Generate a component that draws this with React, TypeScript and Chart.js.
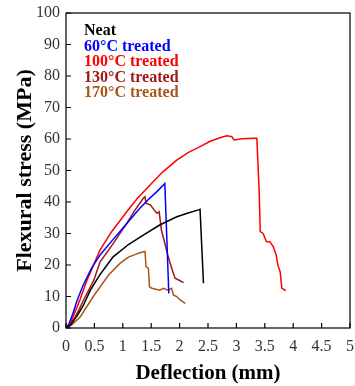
import React, { useEffect, useRef } from "react";
import { Chart, registerables } from "chart.js";

Chart.register(...registerables);

const seriesNames = ["Neat", "60°C treated", "100°C treated", "130°C treated", "170°C treated"];
const seriesColors = ["#000000", "#0000ff", "#ff0000", "#a01818", "#a8561a"];

const neatX = [0, 0.08, 0.2, 0.3, 0.43, 0.6, 0.83, 1.1, 1.36, 1.65, 1.95, 2.15, 2.33, 2.36, 2.42];
const neatY = [0, 1, 4, 7, 12, 17, 22.6, 26.5, 29.5, 32.7, 35.3, 36.5, 37.5, 37.7, 14.2];

const t60X = [0, 0.05, 0.12, 0.2, 0.3, 0.45, 0.6, 0.8, 0.95, 1.1, 1.3, 1.45, 1.6, 1.74, 1.81];
const t60Y = [0, 1.2, 4.5, 9, 13.5, 19, 23.2, 27.5, 30.6, 33.8, 38, 40.8, 43.3, 45.9, 11];

const t100X = [0, 0.05, 0.1, 0.22, 0.37, 0.6, 0.8, 1.07, 1.25, 1.48, 1.7, 1.95, 2.15, 2.36, 2.53, 2.71, 2.83, 2.92, 2.96, 3.1, 3.33, 3.36, 3.4, 3.42, 3.47, 3.53, 3.59, 3.65, 3.7, 3.73, 3.77, 3.8, 3.87];
const t100Y = [0, 1, 2.5, 7.8, 15.2, 24.8, 30.5, 36.9, 41, 45.4, 49.5, 53.3, 55.7, 57.6, 59.2, 60.4, 61, 60.7, 59.7, 60.1, 60.2, 60.2, 43.8, 30.6, 30, 27.4, 27.4, 25.8, 23.2, 20, 17.9, 12.6, 11.9];

const t130X = [0, 0.06, 0.15, 0.3, 0.49, 0.6, 0.8, 1.07, 1.2, 1.36, 1.39, 1.41, 1.49, 1.55, 1.6, 1.64, 1.68, 1.74, 1.8, 1.86, 1.92, 2.01, 2.07];
const t130Y = [0, 0.8, 3, 8.5, 15.2, 21, 26, 33.2, 37, 41.2, 41.7, 39.6, 39, 37.5, 36.4, 36.9, 31.1, 26.9, 22.6, 19, 15.8, 15, 14.4];

const t170X = [0, 0.1, 0.25, 0.48, 0.75, 0.95, 1.1, 1.2, 1.3, 1.39, 1.41, 1.45, 1.47, 1.51, 1.65, 1.71, 1.8, 1.86, 1.89, 1.95, 2.01, 2.1];
const t170Y = [0, 1, 3.5, 10, 16.8, 20.5, 22.5, 23.2, 23.9, 24.3, 19.5, 19, 13.1, 12.6, 12, 12.6, 12, 12.6, 10.5, 10, 8.9, 7.8];

const xTicks = [0, 0.5, 1, 1.5, 2, 2.5, 3, 3.5, 4, 4.5, 5];
const yTicks = [0, 10, 20, 30, 40, 50, 60, 70, 80, 90, 100];

const seriesX = [neatX, t60X, t100X, t130X, t170X];
const seriesY = [neatY, t60Y, t100Y, t130Y, t170Y];

const serif = "'Liberation Serif', 'Times New Roman', serif";

const framePlugin = {
  id: "frame",
  afterDraw(chart: any) {
    const { ctx, chartArea } = chart;
    const xs = chart.scales.x;
    const ys = chart.scales.y;
    ctx.save();
    ctx.strokeStyle = "#000";
    ctx.lineWidth = 1.2;
    ctx.strokeRect(chartArea.left, chartArea.top, chartArea.right - chartArea.left, chartArea.bottom - chartArea.top);
    ctx.beginPath();
    xTicks.forEach((v) => {
      const px = xs.getPixelForValue(v);
      ctx.moveTo(px, chartArea.bottom);
      ctx.lineTo(px, chartArea.bottom - 5);
    });
    yTicks.forEach((v) => {
      const py = ys.getPixelForValue(v);
      ctx.moveTo(chartArea.left, py);
      ctx.lineTo(chartArea.left + 5, py);
    });
    ctx.stroke();
    // legend text
    ctx.font = "bold 16px " + serif;
    ctx.textBaseline = "middle";
    ctx.textAlign = "left";
    seriesNames.forEach((name, i) => {
      ctx.fillStyle = seriesColors[i];
      ctx.fillText(name, 84, 31 + i * 15.5);
    });
    ctx.restore();
  },
};

export default function App() {
  const ref = useRef<HTMLCanvasElement>(null);
  useEffect(() => {
    if (!ref.current) return;
    const datasets = seriesNames.map((name, i) => ({
      label: name,
      data: seriesX[i].map((x, j) => ({ x, y: seriesY[i][j] })),
      borderColor: seriesColors[i],
      backgroundColor: seriesColors[i],
      borderWidth: 1.5,
      pointRadius: 0,
      showLine: true,
      tension: 0,
      fill: false,
    }));
    const chart = new Chart(ref.current, {
      type: "scatter",
      data: { datasets },
      options: {
        animation: false,
        responsive: false,
        maintainAspectRatio: false,
        layout: { padding: { left: 0, top: 13, right: 5, bottom: 0 } },
        plugins: { legend: { display: false }, tooltip: { enabled: false } },
        scales: {
          x: {
            type: "linear",
            min: 0,
            max: 5,
            afterBuildTicks: (s: any) => {
              s.ticks = xTicks.map((v) => ({ value: v }));
            },
            afterFit: (s: any) => {
              s.height = 58;
              s.paddingLeft = 0;
              s.paddingRight = 0;
            },
            grid: { display: false, drawTicks: false, tickLength: 0 },
            border: { display: false },
            ticks: {
              color: "#333",
              font: { family: serif, size: 16 },
              padding: 9,
              maxRotation: 0,
              autoSkip: false,
              callback: (v: any) => String(v),
            },
            title: {
              display: true,
              text: "Deflection (mm)",
              color: "#000",
              font: { family: serif, size: 21, weight: "bold" },
              padding: { top: 0, bottom: 0 },
            },
          },
          y: {
            type: "linear",
            min: 0,
            max: 100,
            afterBuildTicks: (s: any) => {
              s.ticks = yTicks.map((v) => ({ value: v }));
            },
            afterFit: (s: any) => {
              s.width = 66;
              s.paddingTop = 0;
              s.paddingBottom = 0;
            },
            grid: { display: false, drawTicks: false, tickLength: 0 },
            border: { display: false },
            ticks: {
              color: "#333",
              font: { family: serif, size: 16 },
              padding: 6,
              autoSkip: false,
              callback: (v: any) => String(v),
            },
            title: {
              display: true,
              text: "Flexural stress (MPa)",
              color: "#000",
              font: { family: serif, size: 22, weight: "bold" },
              padding: { top: 12, bottom: 0 },
            },
          },
        },
      },
      plugins: [framePlugin],
    });
    return () => chart.destroy();
  }, []);
  return (
    <div style={{ position: "absolute", left: 0, top: 0, width: 355, height: 386, background: "#fff" }}>
      <canvas ref={ref} width={355} height={386} style={{ width: 355, height: 386, display: "block" }} />
    </div>
  );
}
